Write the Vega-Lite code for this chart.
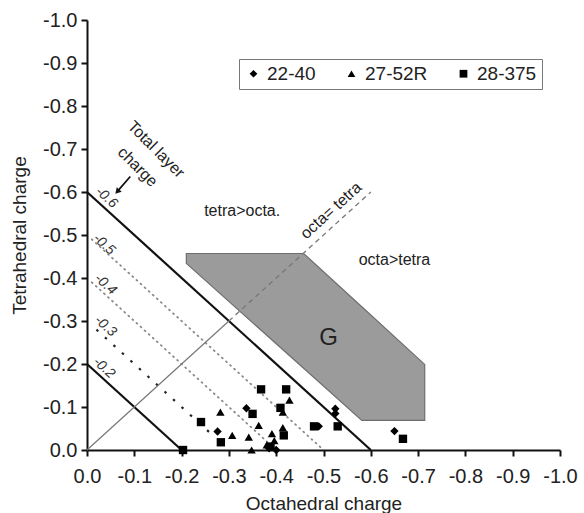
{
  "$schema": "https://vega.github.io/schema/vega-lite/v6.json",
  "width": 473,
  "height": 430,
  "autosize": {"type": "none"},
  "padding": {"left": 87, "top": 20, "right": 24, "bottom": 63},
  "background": "white",
  "config": {
    "view": {"stroke": null},
    "font": "Liberation Sans",
    "axis": {
      "grid": false,
      "domainColor": "#111",
      "domainWidth": 2,
      "tickColor": "#111",
      "tickWidth": 2,
      "tickSize": 6,
      "labelFont": "Liberation Sans",
      "labelFontSize": 20,
      "labelColor": "#222",
      "titleFont": "Liberation Sans",
      "titleFontSize": 19,
      "titleFontWeight": "normal",
      "titleColor": "#222",
      "labelFlush": false,
      "labelOverlap": false
    }
  },
  "datasets": {
    "pts": [
      {"oct": -0.203, "tet": 0.0, "sample": "28-375"},
      {"oct": -0.241, "tet": -0.065, "sample": "28-375"},
      {"oct": -0.283, "tet": -0.018, "sample": "28-375"},
      {"oct": -0.350, "tet": -0.084, "sample": "28-375"},
      {"oct": -0.368, "tet": -0.141, "sample": "28-375"},
      {"oct": -0.421, "tet": -0.141, "sample": "28-375"},
      {"oct": -0.409, "tet": -0.098, "sample": "28-375"},
      {"oct": -0.416, "tet": -0.034, "sample": "28-375"},
      {"oct": -0.480, "tet": -0.055, "sample": "28-375"},
      {"oct": -0.530, "tet": -0.055, "sample": "28-375"},
      {"oct": -0.668, "tet": -0.026, "sample": "28-375"},
      {"oct": -0.388, "tet": -0.008, "sample": "28-375"},
      {"oct": -0.282, "tet": -0.088, "sample": "27-52R"},
      {"oct": -0.307, "tet": -0.034, "sample": "27-52R"},
      {"oct": -0.342, "tet": -0.030, "sample": "27-52R"},
      {"oct": -0.348, "tet": 0.0, "sample": "27-52R"},
      {"oct": -0.363, "tet": -0.057, "sample": "27-52R"},
      {"oct": -0.428, "tet": -0.116, "sample": "27-52R"},
      {"oct": -0.414, "tet": -0.088, "sample": "27-52R"},
      {"oct": -0.414, "tet": -0.052, "sample": "27-52R"},
      {"oct": -0.391, "tet": -0.038, "sample": "27-52R"},
      {"oct": -0.380, "tet": -0.012, "sample": "27-52R"},
      {"oct": -0.396, "tet": -0.022, "sample": "27-52R"},
      {"oct": -0.276, "tet": -0.043, "sample": "22-40"},
      {"oct": -0.337, "tet": -0.097, "sample": "22-40"},
      {"oct": -0.490, "tet": -0.055, "sample": "22-40"},
      {"oct": -0.525, "tet": -0.096, "sample": "22-40"},
      {"oct": -0.525, "tet": -0.085, "sample": "22-40"},
      {"oct": -0.650, "tet": -0.044, "sample": "22-40"},
      {"oct": -0.385, "tet": -0.004, "sample": "22-40"},
      {"oct": -0.400, "tet": 0.0, "sample": "22-40"}
    ],
    "lines": [
      {"line": "t06", "oct": 0.0, "tet": -0.6},
      {"line": "t06", "oct": -0.6, "tet": 0.0},
      {"line": "t02", "oct": 0.0, "tet": -0.2},
      {"line": "t02", "oct": -0.2, "tet": 0.0},
      {"line": "t05", "oct": -0.01, "tet": -0.49},
      {"line": "t05", "oct": -0.5, "tet": 0.0},
      {"line": "t04", "oct": -0.01, "tet": -0.39},
      {"line": "t04", "oct": -0.4, "tet": 0.0},
      {"line": "t03", "oct": -0.02, "tet": -0.28},
      {"line": "t03", "oct": -0.26, "tet": -0.04},
      {"line": "eq", "oct": 0.0, "tet": 0.0},
      {"line": "eq", "oct": -0.3, "tet": -0.3},
      {"line": "eqd", "oct": -0.3, "tet": -0.3},
      {"line": "eqd", "oct": -0.6, "tet": -0.6}
    ],
    "field_g": [
      {"oct": -0.210, "lo": -0.434, "hi": -0.457},
      {"oct": -0.458, "lo": -0.190, "hi": -0.457},
      {"oct": -0.581, "lo": -0.069, "hi": -0.333},
      {"oct": -0.714, "lo": -0.069, "hi": -0.199}
    ],
    "labels": [
      {"kind": "charge", "label": "-0.6", "oct": -0.041, "tet": -0.587},
      {"kind": "charge", "label": "-0.5", "oct": -0.036, "tet": -0.478},
      {"kind": "charge", "label": "-0.4", "oct": -0.039, "tet": -0.385},
      {"kind": "charge", "label": "-0.3", "oct": -0.039, "tet": -0.288},
      {"kind": "charge", "label": "-0.2", "oct": -0.036, "tet": -0.191},
      {"kind": "total", "label": "Total layer", "oct": -0.146, "tet": -0.699},
      {"kind": "total", "label": "charge", "oct": -0.107, "tet": -0.658},
      {"kind": "region", "label": "tetra>octa.", "oct": -0.328, "tet": -0.555},
      {"kind": "region", "label": "octa>tetra", "oct": -0.650, "tet": -0.443},
      {"kind": "diag", "label": "octa= tetra", "oct": -0.516, "tet": -0.557},
      {"kind": "g", "label": "G", "oct": -0.511, "tet": -0.261}
    ],
    "arrow": [
      {"oct": -0.0915, "tet": -0.636, "oct2": -0.067, "tet2": -0.605}
    ],
    "arrowhead": [
      {"oct": -0.064, "tet": -0.601}
    ]
  },
  "layer": [
    {
      "data": {"name": "field_g"},
      "mark": {"type": "area", "orient": "vertical", "fill": "#9b9b9b", "stroke": "#6e6e6e", "strokeWidth": 1.2, "opacity": 1},
      "encoding": {
        "x": {"field": "oct", "type": "quantitative", "scale": {"domain": [0, -1], "nice": false, "zero": false}},
        "y": {"field": "lo", "type": "quantitative", "scale": {"domain": [0, -1], "nice": false, "zero": false}},
        "y2": {"field": "hi"}
      }
    },
    {
      "data": {"name": "lines"},
      "transform": [{"filter": "datum.line === 't06' || datum.line === 't02'"}],
      "mark": {"type": "line", "color": "#111", "strokeWidth": 2.2},
      "encoding": {
        "x": {"field": "oct", "type": "quantitative"},
        "y": {"field": "tet", "type": "quantitative"},
        "detail": {"field": "line"}
      }
    },
    {
      "data": {"name": "lines"},
      "transform": [{"filter": "datum.line === 't05' || datum.line === 't04'"}],
      "mark": {"type": "line", "color": "#8a8a8a", "strokeWidth": 1.8, "strokeDash": [1, 4.5], "strokeCap": "round"},
      "encoding": {
        "x": {"field": "oct", "type": "quantitative"},
        "y": {"field": "tet", "type": "quantitative"},
        "detail": {"field": "line"}
      }
    },
    {
      "data": {"name": "lines"},
      "transform": [{"filter": "datum.line === 't03'"}],
      "mark": {"type": "line", "color": "#222", "strokeWidth": 2.2, "strokeDash": [2.5, 9]},
      "encoding": {
        "x": {"field": "oct", "type": "quantitative"},
        "y": {"field": "tet", "type": "quantitative"}
      }
    },
    {
      "data": {"name": "lines"},
      "transform": [{"filter": "datum.line === 'eq'"}],
      "mark": {"type": "line", "color": "#777", "strokeWidth": 1.2},
      "encoding": {
        "x": {"field": "oct", "type": "quantitative"},
        "y": {"field": "tet", "type": "quantitative"}
      }
    },
    {
      "data": {"name": "lines"},
      "transform": [{"filter": "datum.line === 'eqd'"}],
      "mark": {"type": "line", "color": "#777", "strokeWidth": 1.3, "strokeDash": [5, 4]},
      "encoding": {
        "x": {"field": "oct", "type": "quantitative"},
        "y": {"field": "tet", "type": "quantitative"}
      }
    },
    {
      "data": {"name": "arrow"},
      "mark": {"type": "rule", "color": "#111", "strokeWidth": 1.8},
      "encoding": {
        "x": {"field": "oct", "type": "quantitative"},
        "y": {"field": "tet", "type": "quantitative"},
        "x2": {"field": "oct2"},
        "y2": {"field": "tet2"}
      }
    },
    {
      "data": {"name": "arrowhead"},
      "mark": {"type": "point", "shape": "triangle-down", "filled": true, "color": "#111", "size": 45, "angle": 42, "opacity": 1},
      "encoding": {
        "x": {"field": "oct", "type": "quantitative"},
        "y": {"field": "tet", "type": "quantitative"}
      }
    },
    {
      "data": {"name": "labels"},
      "transform": [{"filter": "datum.kind === 'charge'"}],
      "mark": {"type": "text", "angle": 42, "fontSize": 14, "fontStyle": "italic", "color": "#333", "font": "Liberation Sans"},
      "encoding": {
        "x": {"field": "oct", "type": "quantitative"},
        "y": {"field": "tet", "type": "quantitative"},
        "text": {"field": "label"}
      }
    },
    {
      "data": {"name": "labels"},
      "transform": [{"filter": "datum.kind === 'total'"}],
      "mark": {"type": "text", "angle": 45, "fontSize": 16, "color": "#222", "font": "Liberation Sans"},
      "encoding": {
        "x": {"field": "oct", "type": "quantitative"},
        "y": {"field": "tet", "type": "quantitative"},
        "text": {"field": "label"}
      }
    },
    {
      "data": {"name": "labels"},
      "transform": [{"filter": "datum.kind === 'region'"}],
      "mark": {"type": "text", "fontSize": 16, "color": "#222", "font": "Liberation Sans"},
      "encoding": {
        "x": {"field": "oct", "type": "quantitative"},
        "y": {"field": "tet", "type": "quantitative"},
        "text": {"field": "label"}
      }
    },
    {
      "data": {"name": "labels"},
      "transform": [{"filter": "datum.kind === 'diag'"}],
      "mark": {"type": "text", "angle": -42, "fontSize": 16, "color": "#222", "font": "Liberation Sans"},
      "encoding": {
        "x": {"field": "oct", "type": "quantitative"},
        "y": {"field": "tet", "type": "quantitative"},
        "text": {"field": "label"}
      }
    },
    {
      "data": {"name": "labels"},
      "transform": [{"filter": "datum.kind === 'g'"}],
      "mark": {"type": "text", "fontSize": 24, "color": "#222", "font": "Liberation Sans"},
      "encoding": {
        "x": {"field": "oct", "type": "quantitative"},
        "y": {"field": "tet", "type": "quantitative"},
        "text": {"field": "label"}
      }
    },
    {
      "data": {"name": "pts"},
      "mark": {"type": "point", "filled": true, "color": "#000", "opacity": 1, "size": 70},
      "encoding": {
        "x": {
          "field": "oct", "type": "quantitative",
          "axis": {
            "values": [0, -0.1, -0.2, -0.3, -0.4, -0.5, -0.6, -0.7, -0.8, -0.9, -1.0],
            "labelExpr": "datum.value == 0 ? '0.0' : '-' + format(-datum.value, '.1f')",
            "title": "Octahedral charge",
            "labelPadding": 10,
            "titlePadding": 8
          }
        },
        "y": {
          "field": "tet", "type": "quantitative",
          "axis": {
            "values": [0, -0.1, -0.2, -0.3, -0.4, -0.5, -0.6, -0.7, -0.8, -0.9, -1.0],
            "labelExpr": "datum.value == 0 ? '0.0' : '-' + format(-datum.value, '.1f')",
            "title": "Tetrahedral charge",
            "labelPadding": 4,
            "titlePadding": 13
          }
        },
        "shape": {
          "field": "sample", "type": "nominal",
          "scale": {"domain": ["22-40", "27-52R", "28-375"], "range": ["diamond", "triangle-up", "square"]},
          "legend": {
            "title": null,
            "orient": "none",
            "legendX": 152,
            "legendY": 39,
            "direction": "horizontal",
            "strokeColor": "#777",
            "padding": 5,
            "labelFontSize": 19,
            "labelFont": "Liberation Sans",
            "labelColor": "#222",
            "symbolSize": 60,
            "symbolFillColor": "#000",
            "symbolStrokeColor": "#000",
            "columnPadding": 26,
            "labelOffset": 4,
            "encode": {"legend": {"update": {"strokeWidth": {"value": 1.5}}}}
          }
        }
      }
    }
  ]
}
